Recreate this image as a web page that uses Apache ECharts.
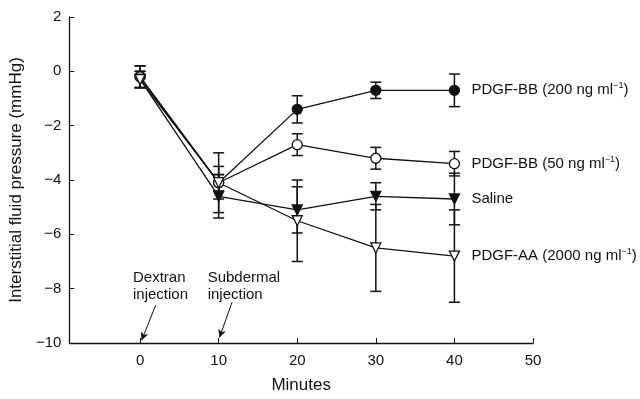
<!DOCTYPE html>
<html>
<head>
<meta charset="utf-8">
<script src="https://cdn.jsdelivr.net/npm/echarts@6/dist/echarts.min.js"></script>
<style>
html,body{margin:0;padding:0;background:#fff}
#main{width:640px;height:399px}
</style>
</head>
<body>
<div id="main"></div>
<script>
// minutes
var minutes = [0, 10, 20, 30, 40];
var xTicks = [0, 10, 20, 30, 40, 50];

// mean pressure (mmHg) and error (±)
var bb200 = [-0.2, -4.1, -1.4, -0.7, -0.7];
var bb200Err = [0.4, 1.1, 0.5, 0.3, 0.6];
var bb50 = [-0.2, -4.1, -2.7, -3.2, -3.4];
var bb50Err = [0.4, 0.6, 0.4, 0.4, 0.45];
var saline = [-0.3, -4.6, -5.1, -4.6, -4.7];
var salineErr = [0.3, 0.8, 0.85, 0.5, 0.95];
var aa = [-0.3, -4.1, -5.5, -6.5, -6.8];
var aaErr = [0.3, 0.3, 1.5, 1.6, 1.7];

// annotations: text anchor and arrow [from, to] in data units
var notes = [
  {text: 'Dextran\ninjection', at: [-0.9, -7.3], arrow: [[2.0, -8.6], [0.2, -9.9]]},
  {text: 'Subdermal\ninjection', at: [8.6, -7.3], arrow: [[11.7, -8.5], [10.1, -9.8]]}
];

var font = '"Liberation Sans", Arial, sans-serif';
var myChart = echarts.init(document.getElementById('main'));

function pairs(ys){
  var out = [];
  for (var i = 0; i < minutes.length; i++) out.push([minutes[i], ys[i]]);
  return out;
}
function bars(ys, es){
  var out = [];
  for (var i = 0; i < minutes.length; i++) out.push([minutes[i], ys[i] - es[i], ys[i] + es[i]]);
  return out;
}

function errSeries(ys, es){
  return {
    type: 'custom',
    z: 1,
    silent: true,
    data: bars(ys, es),
    renderItem: function(params, api){
      var lo = api.coord([api.value(0), api.value(1)]);
      var hi = api.coord([api.value(0), api.value(2)]);
      var w = 5.5;
      var st = {stroke: '#111', lineWidth: 1.5};
      return {type: 'group', children: [
        {type: 'line', shape: {x1: lo[0], y1: lo[1], x2: hi[0], y2: hi[1]}, style: st},
        {type: 'line', shape: {x1: lo[0]-w, y1: lo[1], x2: lo[0]+w, y2: lo[1]}, style: st},
        {type: 'line', shape: {x1: hi[0]-w, y1: hi[1], x2: hi[0]+w, y2: hi[1]}, style: st}
      ]};
    }
  };
}

var richLab = {
  a: {fontSize: 15, fontFamily: font, color: '#111'},
  s: {fontSize: 9, fontFamily: font, color: '#111', padding: [0, 0, 9, 0]}
};

function lineSeries(name, ys, symbol, fill, rotate, label){
  return {
    type: 'line',
    name: name,
    z: 3,
    data: pairs(ys),
    symbol: symbol,
    symbolSize: 10,
    symbolRotate: rotate,
    lineStyle: {color: '#111', width: 1.3},
    itemStyle: {color: fill, borderColor: '#111', borderWidth: 1.3},
    endLabel: {show: true, distance: 17, formatter: label, rich: richLab},
    animation: false
  };
}

var option = {
  animation: false,
  grid: {left: 68, right: 107, top: 17, bottom: 56},
  xAxis: {
    type: 'value', min: -9, max: 50,
    name: 'Minutes', nameLocation: 'middle', nameGap: 34,
    nameTextStyle: {fontSize: 17, fontFamily: font, color: '#111'},
    axisLine: {onZero: false, lineStyle: {color: '#111', width: 1.3}},
    axisTick: {inside: true, length: 5, customValues: xTicks, lineStyle: {color: '#111'}},
    axisLabel: {customValues: xTicks, fontSize: 15, fontFamily: font, color: '#111', margin: 10},
    splitLine: {show: false}
  },
  yAxis: {
    type: 'value', min: -10, max: 2, interval: 2,
    name: 'Interstitial fluid pressure (mmHg)', nameLocation: 'middle', nameGap: 39,
    nameTextStyle: {fontSize: 17, fontFamily: font, color: '#111'},
    axisLine: {show: true, onZero: false, lineStyle: {color: '#111', width: 1.3}},
    axisTick: {show: true, inside: true, length: 5, lineStyle: {color: '#111'}},
    axisLabel: {fontSize: 15, fontFamily: font, color: '#111', margin: 8,
      formatter: function(v){ return String(v).replace('-', '\u2212'); }},
    splitLine: {show: false}
  },
  series: [
    errSeries(bb200, bb200Err),
    errSeries(bb50, bb50Err),
    errSeries(saline, salineErr),
    errSeries(aa, aaErr),
    lineSeries('PDGF-BB 200', bb200, 'circle', '#111', 0, '{a|PDGF-BB (200 ng ml}{s|\u22121}{a|)}'),
    lineSeries('PDGF-BB 50', bb50, 'circle', '#fff', 0, '{a|PDGF-BB (50 ng ml}{s|\u22121}{a|)}'),
    lineSeries('Saline', saline, 'triangle', '#111', 180, '{a|Saline}'),
    lineSeries('PDGF-AA 2000', aa, 'triangle', '#fff', 180, '{a|PDGF-AA (2000 ng ml}{s|\u22121}{a|)}'),
    {
      type: 'line', data: [], silent: true,
      markLine: {
        silent: true, symbol: ['none', 'arrow'], symbolSize: [6, 8],
        lineStyle: {color: '#111', width: 1, type: 'solid'},
        label: {show: false},
        data: notes.map(function(n){
          return [{coord: n.arrow[0]}, {coord: n.arrow[1]}];
        })
      }
    }
  ]
};
myChart.setOption(option);

myChart.setOption({
  graphic: notes.map(function(n){
    var p = myChart.convertToPixel({gridIndex: 0}, n.at);
    return {type: 'text', x: p[0], y: p[1],
      style: {text: n.text, font: '15px ' + font, fill: '#111', lineHeight: 17}};
  })
});
</script>
</body>
</html>
